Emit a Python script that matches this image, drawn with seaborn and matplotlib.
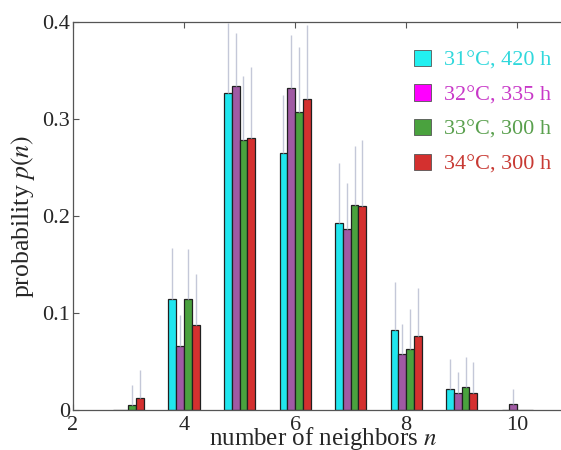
import numpy as np
import pandas as pd
import matplotlib
matplotlib.use("Agg")
import matplotlib.pyplot as plt
import seaborn as sns

# ---- data ----
n_values = [3, 4, 5, 6, 7, 8, 9, 10]
series = ["31°C, 420 h", "32°C, 335 h", "33°C, 300 h", "34°C, 300 h"]
p_31 = [0.000, 0.114, 0.327, 0.265, 0.193, 0.083, 0.022, 0.000]
p_32 = [0.000, 0.066, 0.334, 0.332, 0.187, 0.058, 0.018, 0.006]
p_33 = [0.005, 0.114, 0.278, 0.307, 0.211, 0.063, 0.024, 0.000]
p_34 = [0.012, 0.088, 0.280, 0.321, 0.210, 0.076, 0.018, 0.000]
err_31 = [0.000, 0.053, 0.072, 0.060, 0.062, 0.049, 0.031, 0.000]
err_32 = [0.000, 0.032, 0.055, 0.055, 0.047, 0.031, 0.021, 0.016]
err_33 = [0.021, 0.052, 0.066, 0.067, 0.061, 0.041, 0.031, 0.000]
err_34 = [0.029, 0.052, 0.074, 0.076, 0.068, 0.050, 0.032, 0.000]
x_ticks = [2, 4, 6, 8, 10]
y_ticks = [0, 0.1, 0.2, 0.3, 0.4]
y_tick_labels = ["0", "0.1", "0.2", "0.3", "0.4"]

bar_colors = ["#20e6ee", "#a05aa4", "#4aa23e", "#d4302f"]
legend_patch_colors = ["#22f0f0", "#ff00ff", "#4aa23e", "#d4302f"]
legend_text_colors = ["#30d8dc", "#c838c8", "#5aa04e", "#c83a34"]
err_color = "#c4c8d8"

p_all = [p_31, p_32, p_33, p_34]
err_all = [err_31, err_32, err_33, err_34]
rows = []
for s, pv in zip(series, p_all):
    for n, v in zip(n_values, pv):
        rows.append({"n": n, "series": s, "p": v})
df = pd.DataFrame(rows)

sns.set_style("ticks")
plt.rcParams["font.family"] = ["Liberation Serif", "DejaVu Serif"]
plt.rcParams["mathtext.fontset"] = "stix"

fig = plt.figure(figsize=(5.61, 4.5), dpi=100)
ax = fig.add_axes([0.130, 0.0889, 0.891, 0.862])

sns.barplot(data=df, x="n", y="p", hue="series", hue_order=series,
            palette=bar_colors, native_scale=True, width=0.56,
            edgecolor="#202020", linewidth=0.9, saturation=1,
            legend=False, ax=ax, errorbar=None)

# error bars (upward only)
for ci, cont in enumerate(ax.containers):
    for bar in cont:
        xc = bar.get_x() + bar.get_width() / 2
        n = int(round(xc))
        idx = n_values.index(n)
        h = bar.get_height()
        e = err_all[ci][idx]
        if e > 0:
            ax.vlines(xc, h, h + e, color=err_color, lw=1.0, zorder=1)

ax.set_xlim(2, 11)
ax.set_ylim(0, 0.4)
ax.set_xticks(x_ticks)
ax.set_yticks(y_ticks)
ax.set_yticklabels(y_tick_labels)
ax.tick_params(direction="in", top=True, right=True, labelsize=16,
               length=4, width=0.8, color="#555555")
ax.tick_params(axis="x", pad=4)
ax.tick_params(axis="y", pad=2)
for sp in ax.spines.values():
    sp.set_color("#555555")
    sp.set_linewidth(0.9)

ax.set_xlabel("number of neighbors $n$", fontsize=18, labelpad=-7)
ax.set_ylabel("probability $p(n)$", fontsize=18.5, labelpad=4)

handles = [plt.Rectangle((0, 0), 1, 1, facecolor=c, edgecolor="#555555", lw=0.6)
           for c in legend_patch_colors]
leg = ax.legend(handles, series, loc="upper left", bbox_to_anchor=(0.665, 0.952),
                frameon=False, fontsize=16, handlelength=0.75, handleheight=0.75,
                handletextpad=0.6, labelspacing=0.62, borderaxespad=0)
for t, c in zip(leg.get_texts(), legend_text_colors):
    t.set_color(c)

fig.savefig("out.png", dpi=100)
